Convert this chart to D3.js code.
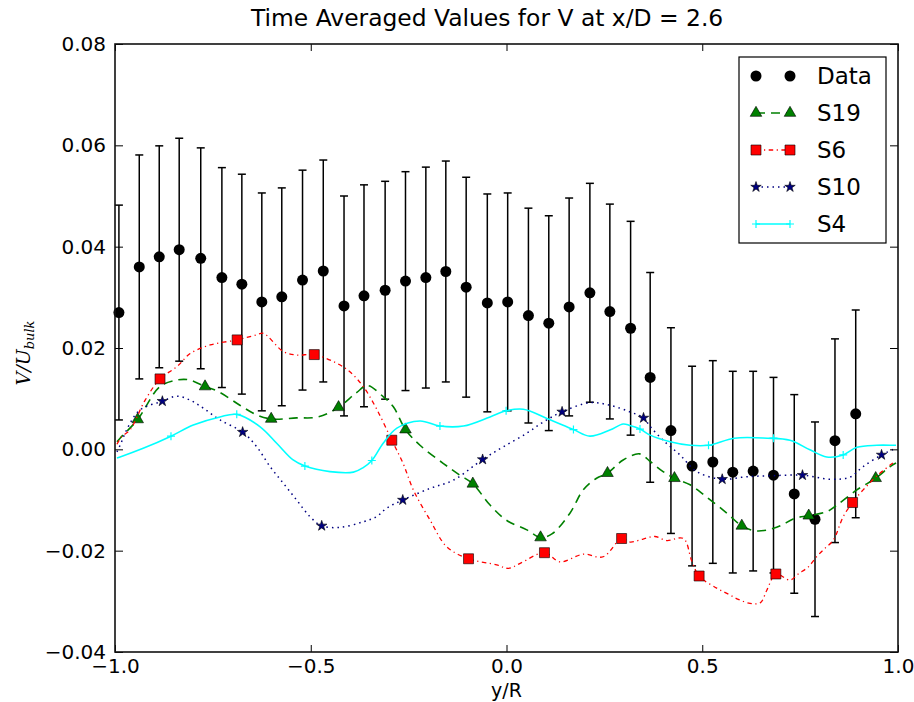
<!DOCTYPE html>
<html>
<head>
<meta charset="utf-8">
<script src="https://cdn.jsdelivr.net/npm/d3@7"></script>
<style>
  body { margin: 0; background: #fff; }
  svg text { font-family: "DejaVu Sans", sans-serif; fill: #000; }
</style>
</head>
<body>
<div id="chart"></div>
<script>
// measured data (circles with error bars)
const dataX = [-0.990, -0.938, -0.887, -0.836, -0.781, -0.727, -0.676, -0.625, -0.574, -0.521, -0.468, -0.415, -0.364,
    -0.310, -0.258, -0.206, -0.155, -0.103, -0.049, 0.003, 0.056, 0.108, 0.160, 0.213, 0.264, 0.317, 0.367,
    0.420, 0.474, 0.527, 0.578, 0.630, 0.682, 0.735, 0.788, 0.839, 0.892];
const dataV = [0.0270, 0.0360, 0.0380, 0.0394, 0.0377, 0.0339, 0.0326, 0.0291, 0.0301, 0.0334, 0.0352, 0.0283, 0.0303,
    0.0314, 0.0332, 0.0339, 0.0351, 0.0320, 0.0289, 0.0291, 0.0264, 0.0249, 0.0281, 0.0309, 0.0272, 0.0239, 0.0142,
    0.0037, -0.0033, -0.0025, -0.0045, -0.0043, -0.0051, -0.0088, -0.0138, 0.0017, 0.0070];
const dataErr = [0.0212, 0.0221, 0.0219, 0.0220, 0.0218, 0.0217, 0.0217, 0.0215, 0.0215, 0.0217, 0.0219, 0.0217, 0.0219,
    0.0215, 0.0216, 0.0218, 0.0218, 0.0217, 0.0215, 0.0215, 0.0212, 0.0212, 0.0215, 0.0216, 0.0212, 0.0211, 0.0207,
    0.0203, 0.0197, 0.0200, 0.0199, 0.0197, 0.0193, 0.0196, 0.0192, 0.0201, 0.0205];

// S19 (green dashed, triangles)
const s19X = [-0.995, -0.987, -0.942, -0.885, -0.840, -0.810, -0.770, -0.736, -0.681, -0.638, -0.601, -0.536, -0.481,
    -0.429, -0.383, -0.355, -0.315, -0.289, -0.258, -0.221, -0.161, -0.119, -0.086, -0.042, 0.000, 0.052, 0.087,
    0.116, 0.162, 0.196, 0.230, 0.258, 0.298, 0.340, 0.367, 0.400, 0.429, 0.469, 0.511, 0.563, 0.601, 0.639,
    0.690, 0.737, 0.772, 0.818, 0.844, 0.895, 0.943, 0.980, 0.995];
const s19Y = [0.0015, 0.0022, 0.0059, 0.0124, 0.0137, 0.0137, 0.0124, 0.0114, 0.0087, 0.0068, 0.0060, 0.0062, 0.0064,
    0.0083, 0.0112, 0.0126, 0.0104, 0.0084, 0.0039, 0.0008, -0.0028, -0.0051, -0.0068, -0.0110, -0.0140, -0.0159, -0.0174,
    -0.0167, -0.0126, -0.0080, -0.0057, -0.0047, -0.0021, -0.0009, -0.0024, -0.0044, -0.0057, -0.0070, -0.0094, -0.0126, -0.0151, -0.0161,
    -0.0154, -0.0136, -0.0131, -0.0123, -0.0110, -0.0080, -0.0057, -0.0034, -0.0027];
const s19MarkX = [-0.942, -0.770, -0.601, -0.429, -0.258, -0.086, 0.087, 0.258, 0.429, 0.601, 0.772, 0.943];
const s19MarkY = [0.0059, 0.0124, 0.0060, 0.0083, 0.0039, -0.0068, -0.0174, -0.0047, -0.0057, -0.0151, -0.0131, -0.0057];

// S6 (red dash-dot, squares)
const s6X = [-0.995, -0.983, -0.962, -0.923, -0.885, -0.842, -0.808, -0.757, -0.688, -0.638, -0.621, -0.570, -0.536,
    -0.491, -0.434, -0.400, -0.366, -0.332, -0.293, -0.264, -0.238, -0.195, -0.153, -0.097, -0.025, 0.005, 0.035,
    0.097, 0.137, 0.196, 0.247, 0.294, 0.316, 0.349, 0.379, 0.409, 0.452, 0.473, 0.492, 0.537, 0.567, 0.592,
    0.622, 0.648, 0.665, 0.688, 0.724, 0.745, 0.771, 0.792, 0.814, 0.835, 0.860, 0.884, 0.911, 0.950, 0.990];
const s6Y = [0.0010, 0.0025, 0.0038, 0.0097, 0.0139, 0.0163, 0.0189, 0.0206, 0.0216, 0.0226, 0.0229, 0.0193, 0.0186,
    0.0187, 0.0170, 0.0153, 0.0124, 0.0080, 0.0018, -0.0028, -0.0080, -0.0140, -0.0192, -0.0216, -0.0228, -0.0235, -0.0225,
    -0.0204, -0.0222, -0.0207, -0.0212, -0.0176, -0.0183, -0.0177, -0.0172, -0.0180, -0.0176, -0.0220, -0.0250, -0.0274, -0.0286, -0.0296,
    -0.0304, -0.0303, -0.0278, -0.0246, -0.0258, -0.0246, -0.0232, -0.0212, -0.0195, -0.0179, -0.0133, -0.0105, -0.0080, -0.0050, -0.0025];
const s6MarkX = [-0.885, -0.688, -0.491, -0.293, -0.097, 0.097, 0.294, 0.492, 0.688, 0.884];
const s6MarkY = [0.0139, 0.0216, 0.0187, 0.0018, -0.0216, -0.0204, -0.0176, -0.0250, -0.0246, -0.0105];

// S10 (navy dotted, stars)
const s10X = [-0.995, -0.987, -0.966, -0.936, -0.879, -0.842, -0.808, -0.774, -0.732, -0.674, -0.638, -0.604, -0.570,
    -0.536, -0.502, -0.472, -0.425, -0.366, -0.332, -0.306, -0.265, -0.195, -0.136, -0.061, -0.008, 0.052, 0.094,
    0.142, 0.213, 0.264, 0.315, 0.350, 0.367, 0.400, 0.443, 0.486, 0.551, 0.614, 0.680, 0.756, 0.826, 0.877,
    0.911, 0.958, 0.988, 0.995];
const s10Y = [-0.0005, 0.0008, 0.0045, 0.0078, 0.0095, 0.0105, 0.0097, 0.0081, 0.0058, 0.0034, 0.0005, -0.0034, -0.0067,
    -0.0100, -0.0133, -0.0151, -0.0154, -0.0143, -0.0133, -0.0116, -0.0100, -0.0077, -0.0061, -0.0020, 0.0005, 0.0032, 0.0054,
    0.0074, 0.0092, 0.0087, 0.0074, 0.0062, 0.0045, 0.0018, -0.0011, -0.0044, -0.0059, -0.0054, -0.0052, -0.0051, -0.0059, -0.0055,
    -0.0034, -0.0011, 0.0000, 0.0003];
const s10MarkX = [-0.879, -0.674, -0.472, -0.265, -0.061, 0.142, 0.350, 0.551, 0.756, 0.958];
const s10MarkY = [0.0095, 0.0034, -0.0151, -0.0100, -0.0020, 0.0074, 0.0062, -0.0059, -0.0051, -0.0011];

// S4 (cyan solid, plus markers)
const s4X = [-0.995, -0.987, -0.928, -0.857, -0.800, -0.732, -0.689, -0.630, -0.587, -0.545, -0.515, -0.451, -0.391,
    -0.366, -0.344, -0.315, -0.280, -0.221, -0.170, -0.110, -0.042, -0.001, 0.043, 0.103, 0.171, 0.213, 0.264,
    0.298, 0.315, 0.341, 0.367, 0.418, 0.469, 0.516, 0.582, 0.666, 0.724, 0.775, 0.818, 0.860, 0.895, 0.946,
    0.988, 0.995];
const s4Y = [-0.0017, -0.0015, 0.0002, 0.0026, 0.0048, 0.0064, 0.0069, 0.0045, 0.0012, -0.0021, -0.0033, -0.0044, -0.0045,
    -0.0036, -0.0022, 0.0012, 0.0042, 0.0056, 0.0046, 0.0046, 0.0064, 0.0076, 0.0079, 0.0061, 0.0039, 0.0026, 0.0038,
    0.0050, 0.0047, 0.0040, 0.0028, 0.0015, 0.0008, 0.0008, 0.0022, 0.0022, 0.0018, -0.0001, -0.0015, -0.0011, 0.0004, 0.0008,
    0.0008, 0.0008];
const s4MarkX = [-0.857, -0.689, -0.515, -0.344, -0.170, -0.001, 0.171, 0.341, 0.516, 0.682, 0.860];
const s4MarkY = [0.0026, 0.0069, -0.0033, -0.0022, 0.0046, 0.0076, 0.0039, 0.0040, 0.0008, 0.0022, -0.0011];

const xTicks = [-1.0, -0.5, 0.0, 0.5, 1.0];
const yTicks = [-0.04, -0.02, 0.00, 0.02, 0.04, 0.06, 0.08];
const seriesNames = ["Data", "S19", "S6", "S10", "S4"];

const zip = (xs, ys) => xs.map((x, i) => ({ x: x, y: ys[i] }));

class ProfileChart {
    constructor(_config) {
        this.config = {
            parentElement: _config.parentElement,
            containerWidth: 914,
            containerHeight: 702,
            margin: { top: 44, right: 16, bottom: 50, left: 115 }
        }
        this.initVis();
    }

    initVis() {
        let vis = this;
        vis.width = vis.config.containerWidth - vis.config.margin.left - vis.config.margin.right;
        vis.height = vis.config.containerHeight - vis.config.margin.top - vis.config.margin.bottom;

        vis.xScale = d3.scaleLinear().domain([-1, 1]).range([0, vis.width]);
        vis.yScale = d3.scaleLinear().domain([-0.04, 0.08]).range([vis.height, 0]);

        vis.svg = d3.select(vis.config.parentElement).append('svg')
            .attr('width', vis.config.containerWidth)
            .attr('height', vis.config.containerHeight);

        vis.chart = vis.svg.append('g')
            .attr('transform', `translate(${vis.config.margin.left},${vis.config.margin.top})`);

        // symbols
        vis.sym = {
            circle: d3.symbol(d3.symbolCircle, 95)(),
            triangle: d3.symbol(d3.symbolTriangle, 58)(),
            square: d3.symbol(d3.symbolSquare, 100)(),
            star: d3.symbol(d3.symbolStar, 34)(),
            plus: 'M-4,0H4M0,-4V4'
        };

        vis.styles = {
            S19: { color: 'green', dash: '9,6', sym: 'triangle', width: 1.6 },
            S6: { color: 'red', dash: '4.5,3.5,1.2,3.5', sym: 'square', width: 1.3 },
            S10: { color: 'navy', dash: '1.5,4', sym: 'star', width: 1.5 },
            S4: { color: 'cyan', dash: null, sym: 'plus', width: 1.6 }
        };

        vis.renderVis();
    }

    renderVis() {
        let vis = this;
        const x = vis.xScale, y = vis.yScale;

        // error bars + data points
        const data = dataX.map((d, i) => ({ x: d, y: dataV[i], e: dataErr[i] }));
        const eb = vis.chart.append('g').attr('stroke', '#000').attr('stroke-width', 1.5);
        eb.selectAll('.bar').data(data).join('line')
            .attr('x1', d => x(d.x)).attr('x2', d => x(d.x))
            .attr('y1', d => y(d.y - d.e)).attr('y2', d => y(d.y + d.e));
        eb.selectAll('.capT').data(data).join('line')
            .attr('x1', d => x(d.x) - 4).attr('x2', d => x(d.x) + 4)
            .attr('y1', d => y(d.y + d.e)).attr('y2', d => y(d.y + d.e));
        eb.selectAll('.capB').data(data).join('line')
            .attr('x1', d => x(d.x) - 4).attr('x2', d => x(d.x) + 4)
            .attr('y1', d => y(d.y - d.e)).attr('y2', d => y(d.y - d.e));
        vis.chart.append('g').selectAll('path').data(data).join('path')
            .attr('d', vis.sym.circle)
            .attr('transform', d => `translate(${x(d.x)},${y(d.y)})`)
            .attr('fill', '#000');

        const models = [
            { name: 'S19', line: zip(s19X, s19Y), marks: zip(s19MarkX, s19MarkY) },
            { name: 'S6', line: zip(s6X, s6Y), marks: zip(s6MarkX, s6MarkY) },
            { name: 'S10', line: zip(s10X, s10Y), marks: zip(s10MarkX, s10MarkY) },
            { name: 'S4', line: zip(s4X, s4Y), marks: zip(s4MarkX, s4MarkY) }
        ];

        const line = d3.line().x(d => x(d.x)).y(d => y(d.y)).curve(d3.curveCatmullRom.alpha(0.5));

        models.forEach(m => {
            const st = vis.styles[m.name];
            vis.chart.append('path')
                .attr('d', line(m.line))
                .attr('fill', 'none')
                .attr('stroke', st.color)
                .attr('stroke-width', st.width)
                .attr('stroke-dasharray', st.dash);
            vis.drawMarks(vis.chart, m.marks.map(d => [x(d.x), y(d.y)]), st);
        });

        // axes, ticks pointing inward on all sides
        const fmtX = v => d3.format('.1f')(v).replace('-', '\u2212');
        const fmtY = v => d3.format('.2f')(v).replace('-', '\u2212');
        const axB = vis.chart.append('g').attr('transform', `translate(0,${vis.height})`)
            .call(d3.axisBottom(x).tickValues(xTicks).tickFormat(fmtX).tickSizeInner(-7).tickSizeOuter(0).tickPadding(7));
        const axT = vis.chart.append('g')
            .call(d3.axisTop(x).tickValues(xTicks).tickFormat('').tickSizeInner(-7).tickSizeOuter(0));
        const axL = vis.chart.append('g')
            .call(d3.axisLeft(y).tickValues(yTicks).tickFormat(fmtY).tickSizeInner(-8).tickSizeOuter(0).tickPadding(9));
        const axR = vis.chart.append('g').attr('transform', `translate(${vis.width},0)`)
            .call(d3.axisRight(y).tickValues(yTicks).tickFormat('').tickSizeInner(-8).tickSizeOuter(0));
        [axB, axT, axL, axR].forEach(g => {
            g.select('.domain').remove();
            g.selectAll('.tick line').attr('stroke', '#000').attr('stroke-width', 1);
            g.selectAll('text').attr('font-size', 20).attr('font-family', 'DejaVu Sans').attr('fill', '#000');
        });

        vis.chart.append('rect')
            .attr('width', vis.width).attr('height', vis.height)
            .attr('fill', 'none').attr('stroke', '#111').attr('stroke-width', 1.6);

        // title & labels
        vis.svg.append('text')
            .attr('x', 251).attr('y', 26)
            .attr('text-anchor', 'start').attr('font-size', 23.4)
            .text('Time Averaged Values for V at x/D = 2.6');
        vis.svg.append('text')
            .attr('x', vis.config.margin.left + vis.width / 2).attr('y', 697)
            .attr('text-anchor', 'middle').attr('font-size', 19)
            .text('y/R');
        const yl = vis.svg.append('text')
            .attr('transform', 'translate(30,353) rotate(-90)')
            .attr('text-anchor', 'middle')
            .style('font-family', '"DejaVu Serif", serif').style('font-style', 'italic')
            .attr('font-size', 19);
        yl.append('tspan').text('V/U');
        yl.append('tspan').attr('font-size', 13).attr('dy', 4).text('bulk');

        vis.renderLegend();
    }

    drawMarks(g, pts, st) {
        let vis = this;
        const sel = g.append('g').selectAll('path').data(pts).join('path')
            .attr('d', vis.sym[st.sym])
            .attr('transform', d => `translate(${d[0]},${d[1]})`);
        if (st.sym === 'plus') {
            sel.attr('fill', 'none').attr('stroke', st.color).attr('stroke-width', 1.2);
        } else {
            sel.attr('fill', st.color).attr('stroke', '#000').attr('stroke-width', 0.6);
        }
    }

    renderLegend() {
        let vis = this;
        const lg = vis.svg.append('g');
        lg.append('rect')
            .attr('x', 739).attr('y', 57).attr('width', 147).attr('height', 186)
            .attr('fill', '#fff').attr('stroke', '#000').attr('stroke-width', 1.2);
        const rowY = d3.scalePoint().domain(seriesNames).range([76, 224]);
        seriesNames.forEach(name => {
            const yy = rowY(name);
            if (name === 'Data') {
                lg.selectAll('.dl').data([756, 790]).join('path')
                    .attr('d', vis.sym.circle)
                    .attr('transform', d => `translate(${d},${yy})`)
                    .attr('fill', '#000');
            } else {
                const st = vis.styles[name];
                lg.append('line')
                    .attr('x1', 756).attr('x2', 790).attr('y1', yy).attr('y2', yy)
                    .attr('stroke', st.color).attr('stroke-width', st.width)
                    .attr('stroke-dasharray', st.dash);
                vis.drawMarks(lg, [[756, yy], [790, yy]], st);
            }
            lg.append('text')
                .attr('x', 817).attr('y', yy).attr('dy', '0.36em')
                .attr('font-size', 23)
                .text(name);
        });
    }
}

new ProfileChart({ parentElement: '#chart' });
</script>
</body>
</html>
